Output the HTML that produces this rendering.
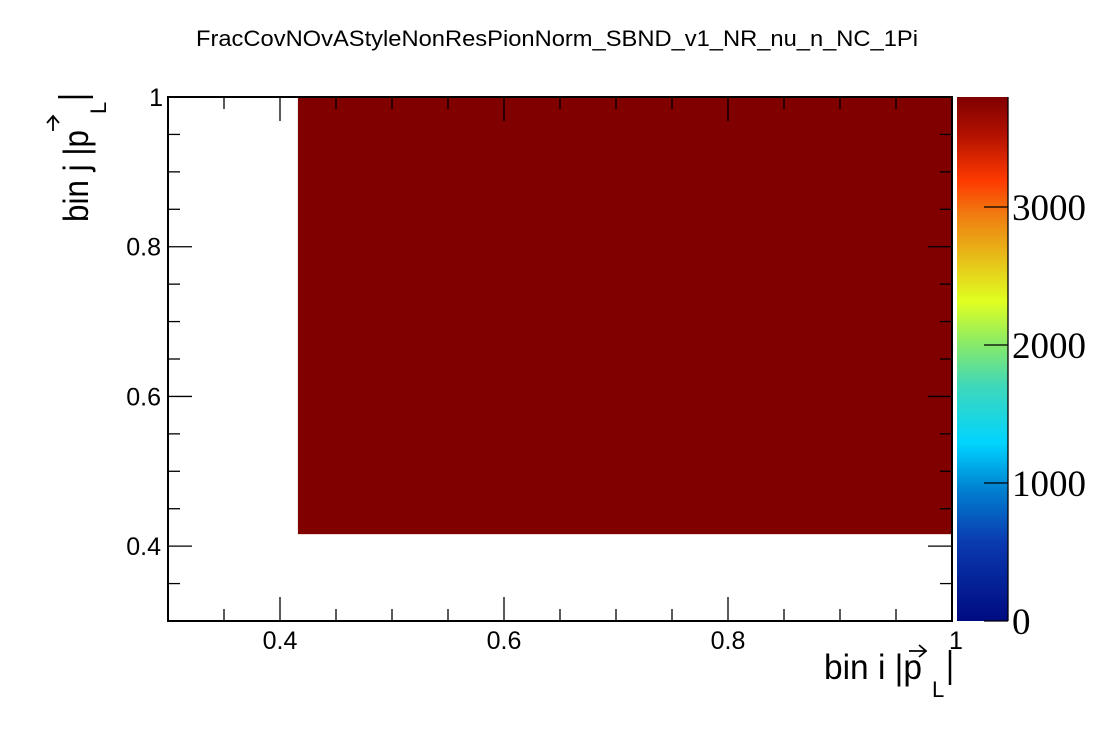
<!DOCTYPE html>
<html><head><meta charset="utf-8"><style>
body{margin:0;background:#fff;}
svg{display:block;font-family:"Liberation Sans",sans-serif;}
</style></head><body>
<svg id="chart" width="1120" height="740">
<defs><linearGradient id="pal" x1="0" y1="1" x2="0" y2="0">
<stop offset="0" stop-color="#000a80"/><stop offset="0.15" stop-color="#0a3ab0"/>
<stop offset="0.25" stop-color="#0080d0"/><stop offset="0.34" stop-color="#00d4ff"/>
<stop offset="0.45" stop-color="#40d8b8"/><stop offset="0.52" stop-color="#80e870"/>
<stop offset="0.61" stop-color="#e0ff20"/><stop offset="0.7" stop-color="#e8b818"/>
<stop offset="0.78" stop-color="#f07810"/><stop offset="0.84" stop-color="#ff3a00"/>
<stop offset="0.93" stop-color="#b01000"/><stop offset="1" stop-color="#800000"/>
</linearGradient></defs>
<text x="196" y="46" font-size="22" textLength="722" lengthAdjust="spacingAndGlyphs">FracCovNOvAStyleNonResPionNorm_SBND_v1_NR_nu_n_NC_1Pi</text>
<g id="plot"></g>
</svg>
<script>
const xEdges=[0.416,1.0];
const yEdges=[0.416,1.0];
const cellValues=[3797];
const xTicks=[0.4,0.6,0.8,1];
const xTickLabels=["0.4","0.6","0.8","1"];
const yTicks=[0.4,0.6,0.8,1];
const yTickLabels=["0.4","0.6","0.8","1"];
const zTicks=[0,1000,2000,3000];
const zTickLabels=["0","1000","2000","3000"];
const zMax=3797;
const L=168,R=952,T=97,B=621,X0=0.3,X1=1,Y0=0.3,Y1=1;
const sx=v=>L+(v-X0)/(X1-X0)*(R-L);
const sy=v=>B-(v-Y0)/(Y1-Y0)*(B-T);
const zy=v=>B-v/zMax*(B-T);
const g=document.getElementById('plot');
const NS='http://www.w3.org/2000/svg';
function mk(t,a){const e=document.createElementNS(NS,t);for(const k in a)e.setAttribute(k,a[k]);g.appendChild(e);return e;}
function col(v){const f=v/zMax;return f>0.97?'#800000':'#c02000';}
for(let i=0;i<cellValues.length;i++){
 const r=mk('rect',{x:sx(xEdges[i]),y:sy(yEdges[i+1]),width:sx(xEdges[i+1])-sx(xEdges[i]),height:sy(yEdges[i])-sy(yEdges[i+1]),fill:col(cellValues[i])});
 
 
}
const fr=mk('rect',{x:L,y:T,width:R-L,height:B-T,fill:'none',stroke:'#000','stroke-width':2});


for(let k=0;k<=14;k++){
 const v=+(0.3+k*0.05).toFixed(2);
 const major=Math.abs(v*10-Math.round(v*10))<1e-6 && Math.round(v*10)%2==0;
 const len=major?24:12;
 mk('line',{x1:sx(v),y1:B,x2:sx(v),y2:B-len,stroke:'#000','stroke-width':1.3});
 mk('line',{x1:sx(v),y1:T,x2:sx(v),y2:T+len,stroke:'#000','stroke-width':1.3});
 mk('line',{x1:L,y1:sy(v),x2:L+len,y2:sy(v),stroke:'#000','stroke-width':1.3});
 mk('line',{x1:R,y1:sy(v),x2:R-len,y2:sy(v),stroke:'#000','stroke-width':1.3});
}
xTicks.forEach((v,i)=>{const t=mk('text',{x:sx(v)+(v==1?4:0),y:649,'font-size':25,'text-anchor':'middle'});t.textContent=xTickLabels[i];
 
 });
yTicks.forEach((v,i)=>{const t=mk('text',{x:v==1?163:161,y:sy(v)+9,'font-size':25,'text-anchor':'end'});t.textContent=yTickLabels[i];
 
 });
// x axis title
const xt=mk('text',{x:824,y:679,'font-size':35,textLength:98,lengthAdjust:'spacingAndGlyphs'});xt.textContent='bin i |p';


const xs=mk('text',{x:932,y:697,'font-size':22});xs.textContent='L';
mk('line',{x1:950,y1:650,x2:950,y2:685,stroke:'#000','stroke-width':2.5});
mk('line',{x1:909,y1:651,x2:926,y2:651,stroke:'#000','stroke-width':1.8});
mk('path',{d:'M919 645 L926 651 L919 657',fill:'none',stroke:'#000','stroke-width':1.8});
// y axis title
const yt=mk('text',{x:0,y:0,'font-size':35,textLength:92,lengthAdjust:'spacingAndGlyphs',transform:'translate(88,222) rotate(-90)'});yt.textContent='bin j |p';


const ys=mk('text',{x:0,y:0,'font-size':22,transform:'translate(106,114) rotate(-90)'});ys.textContent='L';
mk('line',{x1:58,y1:97,x2:93,y2:97,stroke:'#000','stroke-width':2.5});
mk('line',{x1:53,y1:131,x2:53,y2:116,stroke:'#000','stroke-width':1.8});
mk('path',{d:'M47 123 L53 116 L59 123',fill:'none',stroke:'#000','stroke-width':1.8});
// palette
const pb=mk('rect',{x:957,y:T,width:51,height:B-T,fill:'url(#pal)'});


mk('line',{x1:1008,y1:T,x2:1008,y2:B,stroke:'#000','stroke-width':1.3});
zTicks.forEach((v,i)=>{
 mk('line',{x1:1008,y1:zy(v),x2:984,y2:zy(v),stroke:'#000','stroke-width':1.3});
 const t=mk('text',{x:1012,y:zy(v)+13,'font-size':37,'font-family':'Liberation Serif,serif'});t.textContent=zTickLabels[i];
 
 
});
</script>
</body></html>
